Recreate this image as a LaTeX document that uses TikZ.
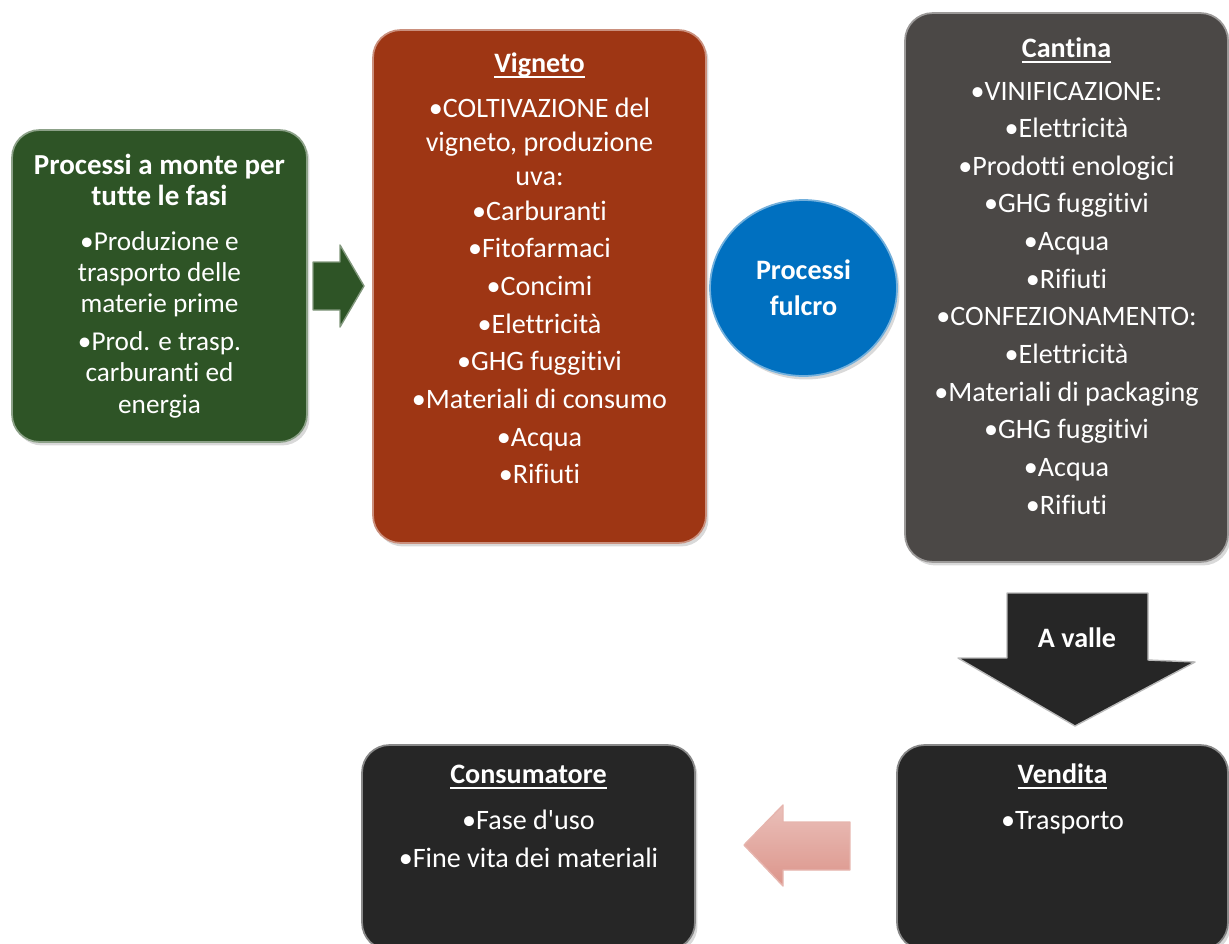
\documentclass[tikz,border=0pt]{standalone}
\usepackage{fontspec}
\setmainfont{Carlito}[Ligatures={TeX,NoCommon}]
\usetikzlibrary{positioning, shapes.geometric, shadows}
\definecolor{cgreen}{HTML}{2E5426}
\definecolor{crust}{HTML}{9E3614}
\definecolor{cgrey}{HTML}{4B4846}
\definecolor{cdark}{HTML}{262626}
\definecolor{cblue}{HTML}{0070C0}
\definecolor{cpink}{HTML}{DC958B}
\tikzset{
  every picture/.style={font=\fontsize{16}{21.3}\selectfont},
  stage/.style={fill=#1, draw=#1!55!white, line width=1pt, rounded corners=0.55cm,
    drop shadow={shadow xshift=0.05cm, shadow yshift=-0.07cm, opacity=0.3}},
  stage/.default=cdark,
  item/.style={text=white, inner sep=0pt, anchor=base},
  blockarrow/.style={fill=#1, draw=#1!60!white, line width=0.8pt, line join=round},
}
\newcommand{\hd}[1]{\setbox0\hbox{\bfseries #1}\rlap{\rule[-3.4pt]{\wd0}{1.1pt}}\box0}
\newcommand{\bt}[1]{{\bfseries\fontsize{16.5}{18}\selectfont #1}}

\begin{document}
\begin{tikzpicture}[x=0.02cm, y=-0.02cm]
  \useasboundingbox (0,0) rectangle (1229,943);
  % upstream processes (left)
  \node[stage=cgreen, text=white, align=center, inner sep=0pt, minimum width=5.9cm, minimum height=6.24cm,
    font=\fontsize{15.5}{17.8}\selectfont] (monte) at (159.5,286)
    {\bt{Processi a monte per}\\ \bt{tutte le fasi}\\[7.5pt]
     •Produzione e\\ trasporto delle\\ materie prime\\[3.7pt]
     •Prod. e trasp.\\ carburanti ed\\ energia};
  \draw[blockarrow=cgreen] (313,262) -- (340,262) -- (340,245) -- (364,286) -- (340,327) -- (340,310) -- (313,310) -- cycle;
  % vineyard
  \node[stage=crust, minimum width=6.66cm, minimum height=10.26cm] (vig) at (539.5,286.5) {};
  \node[item] (vigt) at (539.5,72) {\hd{Vigneto}};
  \node[item, anchor=north, align=center, font=\fontsize{16}{19.3}\selectfont] (vigi) at (539.5,98)
    {•COLTIVAZIONE del\\ vigneto, produzione\\ uva:};
  \foreach \t [count=\i] in {Carburanti, Fitofarmaci, Concimi, Elettricità, GHG fuggitivi, Materiali di consumo, Acqua, Rifiuti}
    \node[item] (v\i) at (539.5,182.3+37.7*\i) {•\t};
  % core processes
  \node[ellipse, fill=cblue, draw=cblue!55!white, line width=1pt, minimum width=3.74cm, minimum height=3.52cm,
    text=white, align=center, font=\bfseries\fontsize{16}{20.4}\selectfont,
    drop shadow={shadow xshift=0.05cm, shadow yshift=-0.07cm, opacity=0.3}] (fulcro) at (803.5,288) {Processi\\fulcro};
  % winery (right)
  \node[stage=cgrey, minimum width=6.46cm, minimum height=10.98cm] (can) at (1066.5,287.5) {};
  \node[item] (cant) at (1066.5,57) {\hd{Cantina}};
  \foreach \t [count=\i] in {VINIFICAZIONE:, Elettricità, Prodotti enologici, GHG fuggitivi, Acqua, Rifiuti,
      CONFEZIONAMENTO:, Elettricità, Materiali di packaging, GHG fuggitivi, Acqua, Rifiuti}
    \node[item] (c\i) at (1066.5,62.4+37.64*\i) {•\t};
  % downstream
  \draw[blockarrow=cdark, draw=gray!55] (1007,593) -- (1148,593) -- (1148,660) -- (1195,662) -- (1075,726) -- (958,658) -- (1007,658) -- cycle;
  \node[item] (valle) at (1077,647) {\textbf{A valle}};
  \node[stage, minimum width=6.62cm, minimum height=4.1cm] (ven) at (1062.5,847.5) {};
  \node[item] (vent) at (1062.5,783) {\hd{Vendita}};
  \node[item] (ven1) at (1062.5,829) {•Trasporto};
  \node[stage, minimum width=6.66cm, minimum height=4.1cm] (con) at (528.5,847.5) {};
  \node[item] (cont) at (528.5,783) {\hd{Consumatore}};
  \node[item] (con1) at (528.5,829) {•Fase d\textquotesingle uso};
  \node[item] (con2) at (528.5,867) {•Fine vita dei materiali};
  \draw[top color=cpink!60!white, bottom color=cpink, draw=cpink!70!white, line width=0.8pt, line join=round]
    (850,822) -- (783,822) -- (783,805) -- (744,845) -- (783,886) -- (783,870) -- (850,870) -- cycle;
\end{tikzpicture}
\end{document}
